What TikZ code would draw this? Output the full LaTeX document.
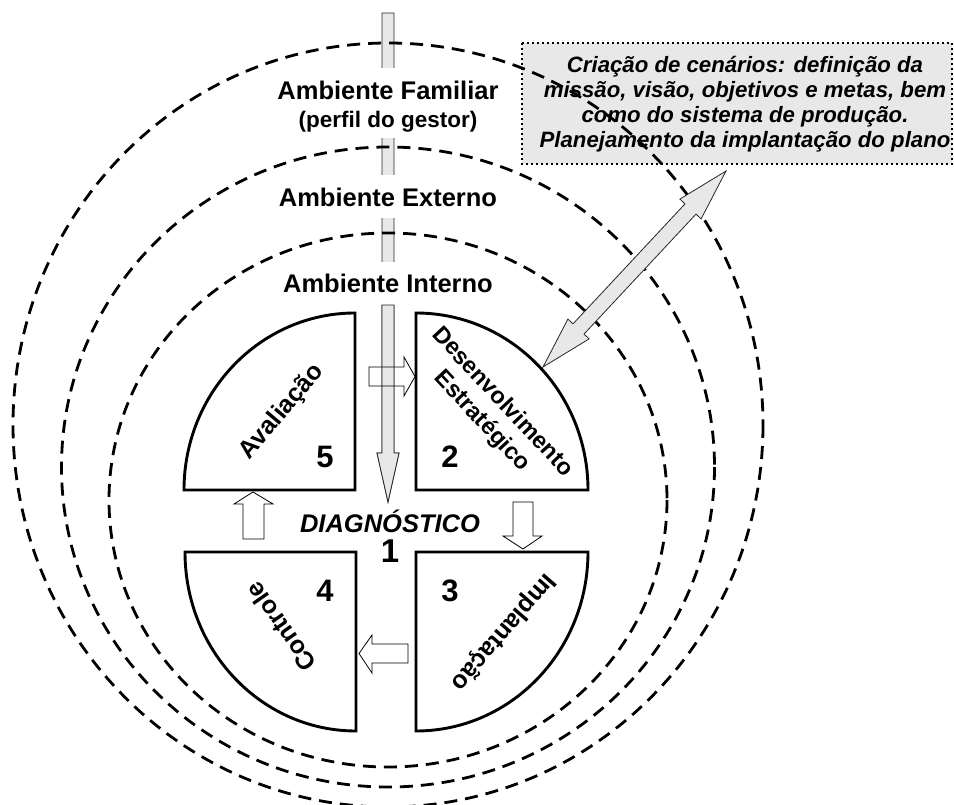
\documentclass[tikz,border=0pt]{standalone}
\usepackage{fontspec}
\setmainfont{Liberation Sans}
\definecolor{lg}{HTML}{E8E8E8}
\begin{document}
\begin{tikzpicture}[x=1pt,y=-1pt,
  env/.style={draw=black, line width=2.8pt, dash pattern=on 13pt off 8pt},
  quad/.style={draw=black, line width=2.9pt, line join=miter, fill=white},
  blockarrow/.style={draw=black, line width=0.8pt},
  grayarrow/.style={draw=black!85, fill=lg, line width=0.8pt},
  envlabel/.style={font=\fontsize{25.5}{28}\selectfont\bfseries, anchor=base},
  qlabel/.style={font=\fontsize{25}{28}\selectfont\bfseries, align=center},
  num/.style={font=\fontsize{31}{32}\selectfont\bfseries, anchor=base},
]
\useasboundingbox (0,0) rectangle (954,805);

% scenario box
\draw[fill=lg, line width=2pt, dash pattern=on 2pt off 3pt] (522,43) rectangle (952,164);
\node[font=\fontsize{22.2}{25}\selectfont\bfseries\itshape, align=center] (cen) at (745,104)
  {Criação de cenários: definição da\\missão, visão, objetivos e metas, bem\\como do sistema de produção.\\Planejamento da implantação do plano};

% central diagnostic arrow
\draw[grayarrow] (382,13) -- (394,13) -- (394,453) -- (399,453) -- (388,502) -- (377,453) -- (382,453) -- cycle;
\fill[white] (378,68) rectangle (398,138);
\fill[white] (378,175) rectangle (398,218);
\fill[white] (378,262) rectangle (398,305);

% environments
\draw[env] (388,425) ellipse [x radius=375, y radius=382];
\draw[env] (388,467) ellipse [x radius=326.5, y radius=320];
\draw[env] (388,500) ellipse [x radius=279, y radius=267];

% quadrants
\draw[quad] (355,490) -- (184,490) arc[start angle=180, end angle=270, x radius=171, y radius=177] -- cycle;
\draw[quad] (416,490) -- (416,313) arc[start angle=270, end angle=360, x radius=172, y radius=177] -- cycle;
\draw[quad] (356,552) -- (185,552) arc[start angle=180, end angle=90, x radius=171, y radius=179] -- cycle;
\draw[quad] (416,552) -- (416,731) arc[start angle=90, end angle=0, x radius=172, y radius=179] -- cycle;

% lower part of the central arrow between the quadrants
\draw[grayarrow] (382,305) -- (394,305) -- (394,453) -- (399,453) -- (388,502) -- (377,453) -- (382,453) -- cycle;

% cycle arrows
\draw[blockarrow] (369,367) -- (404,367) -- (404,357) -- (415,376.5) -- (404,396) -- (404,386) -- (369,386) -- cycle;
\draw[blockarrow, fill=white] (513,502) -- (533,502) -- (533,536) -- (542,536) -- (523,549) -- (503,536) -- (513,536) -- cycle;
\draw[blockarrow, fill=white] (408,644) -- (408,663) -- (372,663) -- (372,673) -- (359,653.5) -- (372,635) -- (372,644) -- cycle;
\draw[blockarrow, fill=white] (243,539) -- (243,504) -- (234,504) -- (253,492) -- (273,504) -- (264,504) -- (264,539) -- cycle;

% double arrow to scenario box
\draw[grayarrow] (726,171) -- (701.1,218.9) -- (696.0,214.1) -- (584.0,334.1) -- (589.1,338.9) -- (543,367)
  -- (567.9,319.1) -- (573.0,323.9) -- (685.0,203.9) -- (679.9,199.1) -- cycle;

% environment labels
\node[envlabel] (fam) at (388,100) {Ambiente Familiar};
\node[envlabel, font=\fontsize{22.5}{24}\selectfont\bfseries] (perf) at (388,128) {(perfil do gestor)};
\node[envlabel] (ext) at (388,207) {Ambiente Externo};
\node[envlabel] (int) at (388,293) {Ambiente Interno};

% quadrant labels
\node[qlabel, rotate=50] (aval) at (282,412) {Avaliação};
\node[qlabel, rotate=-47, font=\fontsize{23.5}{28}\selectfont\bfseries] (desv) at (492,412) {Desenvolvimento\\Estratégico};
\node[qlabel, rotate=125] (ctrl) at (281,627) {Controle};
\node[qlabel, rotate=-131] (impl) at (503,632) {Implantação};

% numbers
\node[num] (n5) at (325,467) {5};
\node[num] (n2) at (450,467) {2};
\node[num] (n4) at (325,601) {4};
\node[num] (n3) at (450,601) {3};
\node[num, font=\fontsize{33}{33}\selectfont\bfseries] (n1) at (390,562) {1};
\node[font=\fontsize{25.5}{28}\selectfont\bfseries\itshape, anchor=base] (diag) at (390,532) {DIAGNÓSTICO};
\end{tikzpicture}
\end{document}
